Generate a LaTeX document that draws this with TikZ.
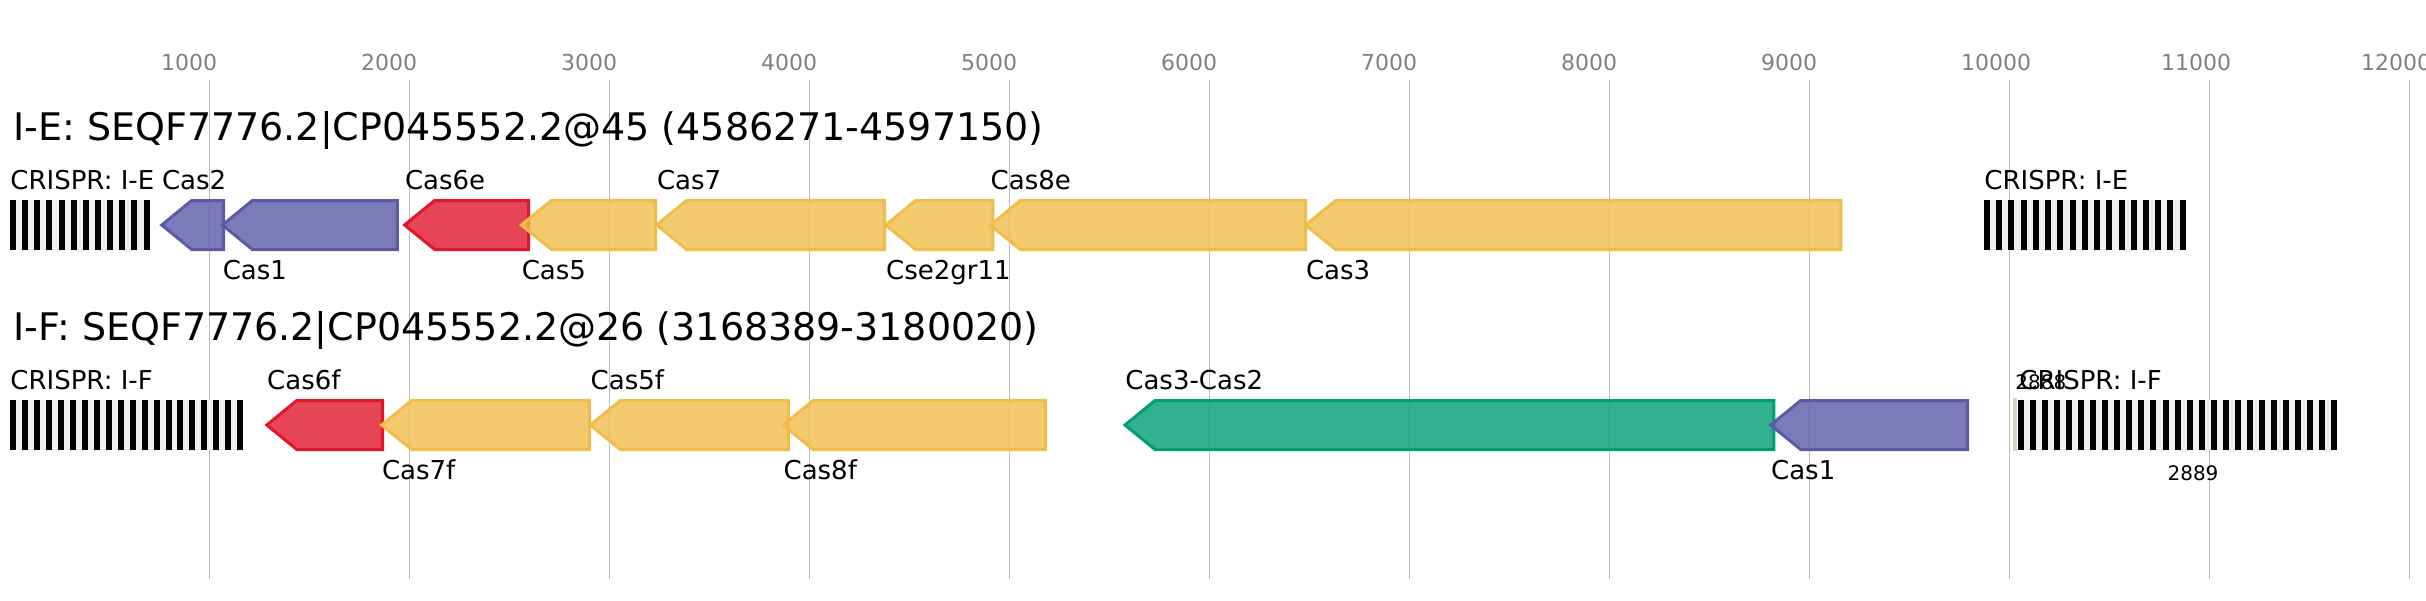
\documentclass[tikz,border=0pt]{standalone}
\usepackage{fontspec}
\setmainfont{DejaVu Sans}
\usetikzlibrary{calc}

\definecolor{casblue}{HTML}{5A5AA5}
\definecolor{casred}{HTML}{E0162B}
\definecolor{casyellow}{HTML}{F0BD4A}
\definecolor{casgreen}{HTML}{009E73}
\definecolor{gridgray}{HTML}{BDBDBD}
\definecolor{crgap}{HTML}{EFEFEF}
\definecolor{oddbar}{HTML}{DCD3CB}

% gene arrow pointing left: tip x, right x, centre y, colour
\newcommand{\gene}[4]{%
  \draw[gene, draw=#4, fill=#4] (#1,#3) -- (#1+30,#3-24.5) -- (#2,#3-24.5)
    -- (#2,#3+24.5) -- (#1+30,#3+24.5) -- cycle;}

% CRISPR array: left x, right x, centre y, number of repeats
\newcommand{\crispr}[4]{%
  \pgfmathsetmacro{\crstep}{(#2-#1-6)/(#4-1)}
  \fill[crgap] (#1,#3-25) rectangle (#2,#3+25);
  \foreach \i in {1,...,#4}
    \fill[black] ({#1+(\i-1)*\crstep},#3-25) rectangle ++(6,50);}

\begin{document}
\begin{tikzpicture}[x=0.5pt, y=-0.5pt,
    gene/.style={line width=1.5pt, line join=miter, fill opacity=0.8},
    grid/.style={draw=gridgray, line width=0.75pt},
    tick/.style={anchor=base west, inner sep=0pt, text=gray, font=\fontsize{11}{13}\selectfont},
    title/.style={anchor=base west, inner sep=0pt, font=\fontsize{19}{22}\selectfont},
    lab/.style={anchor=base west, inner sep=0pt, font=\fontsize{13}{15}\selectfont},
    small/.style={inner sep=0pt, font=\fontsize{10}{12}\selectfont}]

    \useasboundingbox (0,0) rectangle (2426,600);

    % axis
    \foreach \k in {1,...,12} {
        \draw[grid] ({9.7+200*\k},80) -- ({9.7+200*\k},579);
        \node[tick] (t\k) at ({9.7+200*\k-49},70) {\k000};
    }

    % I-E locus
    \node[title] (titleIE) at (13,140) {I-E: SEQF7776.2|CP045552.2@45 (4586271-4597150)};

    \crispr{10}{149.5}{225}{12}
    \node[lab] (crIEa) at (10,189) {CRISPR: I-E};

    \gene{161.7}{223.5}{225}{casblue}
    \gene{222.4}{397.4}{225}{casblue}
    \gene{404.6}{528.6}{225}{casred}
    \gene{521.4}{655.6}{225}{casyellow}
    \gene{656.6}{884.7}{225}{casyellow}
    \gene{885.7}{992.9}{225}{casyellow}
    \gene{990.3}{1305.6}{225}{casyellow}
    \gene{1305.6}{1840.8}{225}{casyellow}

    \node[lab] (lCasTwo) at (161.7,189) {Cas2};
    \node[lab] (lCasOne) at (222.4,279) {Cas1};
    \node[lab] (lCasSixE) at (404.6,189) {Cas6e};
    \node[lab] (lCasFive) at (521.4,279) {Cas5};
    \node[lab] (lCasSeven) at (656.6,189) {Cas7};
    \node[lab] (lCseTwo) at (885.7,279) {Cse2gr11};
    \node[lab] (lCasEightE) at (990.3,189) {Cas8e};
    \node[lab] (lCasThree) at (1305.6,279) {Cas3};

    \crispr{1984}{2185.7}{225}{17}
    \node[lab] (crIEb) at (1984,189) {CRISPR: I-E};

    % I-F locus
    \node[title] (titleIF) at (13,340) {I-F: SEQF7776.2|CP045552.2@26 (3168389-3180020)};

    \crispr{10}{243.3}{425}{20}
    \node[lab] (crIFa) at (10,389) {CRISPR: I-F};

    \gene{266.8}{382.7}{425}{casred}
    \gene{381.6}{589.3}{425}{casyellow}
    \gene{590.3}{788.3}{425}{casyellow}
    \gene{783.2}{1045.4}{425}{casyellow}
    \gene{1125}{1773.9}{425}{casgreen}
    \gene{1770.7}{1967.7}{425}{casblue}

    \node[lab] (lCasSixF) at (266.8,389) {Cas6f};
    \node[lab] (lCasSevenF) at (381.6,479) {Cas7f};
    \node[lab] (lCasFiveF) at (590.3,389) {Cas5f};
    \node[lab] (lCasEightF) at (783.2,479) {Cas8f};
    \node[lab] (lCasThreeTwo) at (1125,389) {Cas3-Cas2};
    \node[lab] (lCasOneF) at (1770.7,479) {Cas1};

    \fill[oddbar] (2012.7,398) rectangle (2016.7,451);
    \crispr{2018.3}{2336.7}{425}{27}
    \node[lab] (crIFb) at (2019,389) {CRISPR: I-F};
    \node[small, anchor=base west] (nLeft) at (2015,389) {2888};
    \node[small, anchor=base] (nRight) at (2193,480) {2889};
\end{tikzpicture}
\end{document}
